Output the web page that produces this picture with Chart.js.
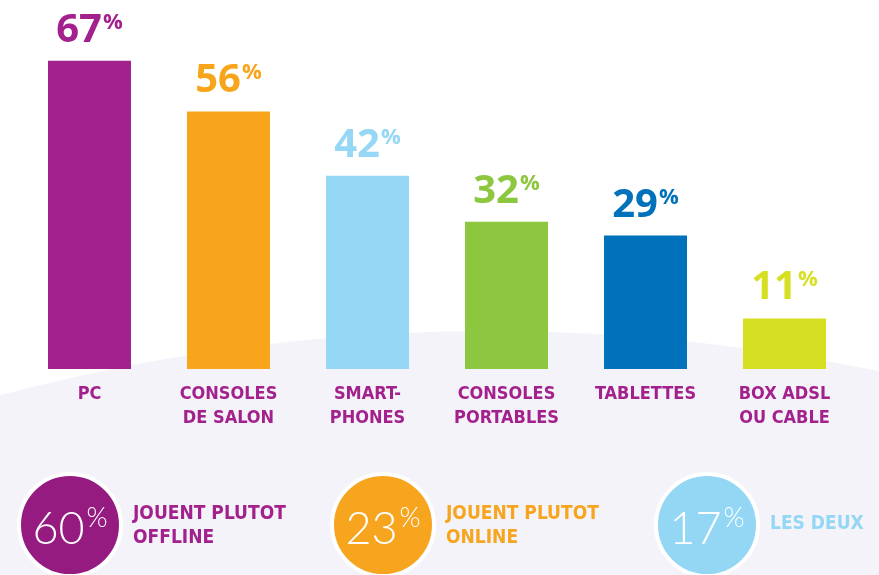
<!DOCTYPE html>
<html>
<head>
<meta charset="utf-8">
<script src="https://cdn.jsdelivr.net/npm/chart.js@4.4.1/dist/chart.umd.min.js"></script>
<style>
  body { margin: 0; background: #fff; }
  #wrap { width: 879px; height: 575px; }
</style>
</head>
<body>
<div id="wrap"><canvas id="myChart" width="879" height="575"></canvas></div>
<script>
var categories = [['PC'], ['CONSOLES', 'DE SALON'], ['SMART-', 'PHONES'], ['CONSOLES', 'PORTABLES'], ['TABLETTES'], ['BOX ADSL', 'OU CABLE']];
var shares = [67, 56, 42, 32, 29, 11];
var barColors = ['#a3218c', '#f9a51b', '#96d7f5', '#8dc63f', '#0071bb', '#d7df22'];

var playValues = [60, 23, 17];
var playLabels = [['JOUENT PLUTOT', 'OFFLINE'], ['JOUENT PLUTOT', 'ONLINE'], ['LES DEUX']];
var playColors = ['#951b81', '#f7a51e', '#93d7f5'];
var playTextColors = ['#a3218c', '#f7a51e', '#93d7f5'];

const condensed = '"DejaVu Sans Condensed", "DejaVu Sans", sans-serif';

// white top + lavender curved area behind the labels
const backdrop = {
  id: 'backdrop',
  beforeDraw(chart) {
    const ctx = chart.ctx;
    ctx.save();
    ctx.fillStyle = '#fff';
    ctx.fillRect(0, 0, chart.width, chart.height);
    ctx.fillStyle = '#f4f3f9';
    ctx.beginPath();
    ctx.arc(490, 331 + 1900, 1900, 0, Math.PI * 2);
    ctx.fill();
    ctx.restore();
  }
};

// big "67%" labels above bars
const valueLabels = {
  id: 'valueLabels',
  afterDatasetsDraw(chart) {
    const ctx = chart.ctx;
    chart.getDatasetMeta(0).data.forEach((bar, i) => {
      const num = String(shares[i]);
      ctx.save();
      ctx.font = 'bold 40px "Open Sans"';
      const w1 = ctx.measureText(num).width;
      ctx.font = 'bold 22px "Open Sans"';
      const w2 = ctx.measureText('%').width;
      const left = bar.x - (w1 + w2 + 1) / 2;
      const base = bar.y - 19;
      ctx.fillStyle = barColors[i];
      ctx.textAlign = 'left';
      ctx.textBaseline = 'alphabetic';
      ctx.font = 'bold 40px "Open Sans"';
      ctx.fillText(num, left, base);
      ctx.font = 'bold 22px "Open Sans"';
      ctx.fillText('%', left + w1 + 1, base - 13);
      ctx.restore();
    });
  }
};

// the three round badges at the bottom
const playSummary = {
  id: 'playSummary',
  afterDraw(chart) {
    const ctx = chart.ctx;
    const circleX = [70, 383, 707];
    const cy = 525;
    playValues.forEach((v, i) => {
      const cx = circleX[i];
      ctx.save();
      ctx.beginPath();
      ctx.arc(cx, cy, 51, 0, Math.PI * 2);
      ctx.fillStyle = playColors[i];
      ctx.fill();
      ctx.lineWidth = 4;
      ctx.strokeStyle = '#fff';
      ctx.stroke();

      const num = String(v);
      ctx.fillStyle = '#fff';
      ctx.textAlign = 'left';
      ctx.textBaseline = 'alphabetic';
      ctx.font = '300 45px Lato';
      const w1 = ctx.measureText(num).width;
      ctx.font = '300 27px Lato';
      const w2 = ctx.measureText('%').width;
      const left = cx - (w1 + w2 + 2) / 2;
      ctx.font = '300 45px Lato';
      ctx.fillText(num, left, 544);
      ctx.font = '300 27px Lato';
      ctx.fillText('%', left + w1 + 2, 527);

      const lines = playLabels[i];
      ctx.fillStyle = playTextColors[i];
      ctx.font = 'bold 19px ' + condensed;
      ctx.textBaseline = 'middle';
      const y0 = lines.length > 1 ? 514 : 524;
      lines.forEach((t, k) => ctx.fillText(t, cx + 63, y0 + k * 24));
      ctx.restore();
    });
  }
};

const data = {
  labels: categories,
  datasets: [{
    data: shares,
    backgroundColor: barColors,
    borderWidth: 0,
    barPercentage: 0.597,
    categoryPercentage: 1
  }]
};

const config = {
  type: 'bar',
  data: data,
  options: {
    responsive: false,
    animation: false,
    layout: { padding: { top: 1, left: 20, right: 25, bottom: 0 } },
    plugins: { legend: { display: false }, tooltip: { enabled: false } },
    scales: {
      x: {
        grid: { display: false, drawTicks: false },
        border: { display: false },
        ticks: {
          color: '#a3218c',
          padding: 14,
          maxRotation: 0,
          autoSkip: false,
          font: { family: condensed, size: 18, weight: 'bold', lineHeight: 1.3 }
        },
        afterFit: (scale) => { scale.height = 206; }
      },
      y: { display: false, min: 0, max: 80 }
    }
  },
  plugins: [backdrop, valueLabels, playSummary]
};

const myChart = new Chart(document.getElementById('myChart'), config);
</script>
</body>
</html>
